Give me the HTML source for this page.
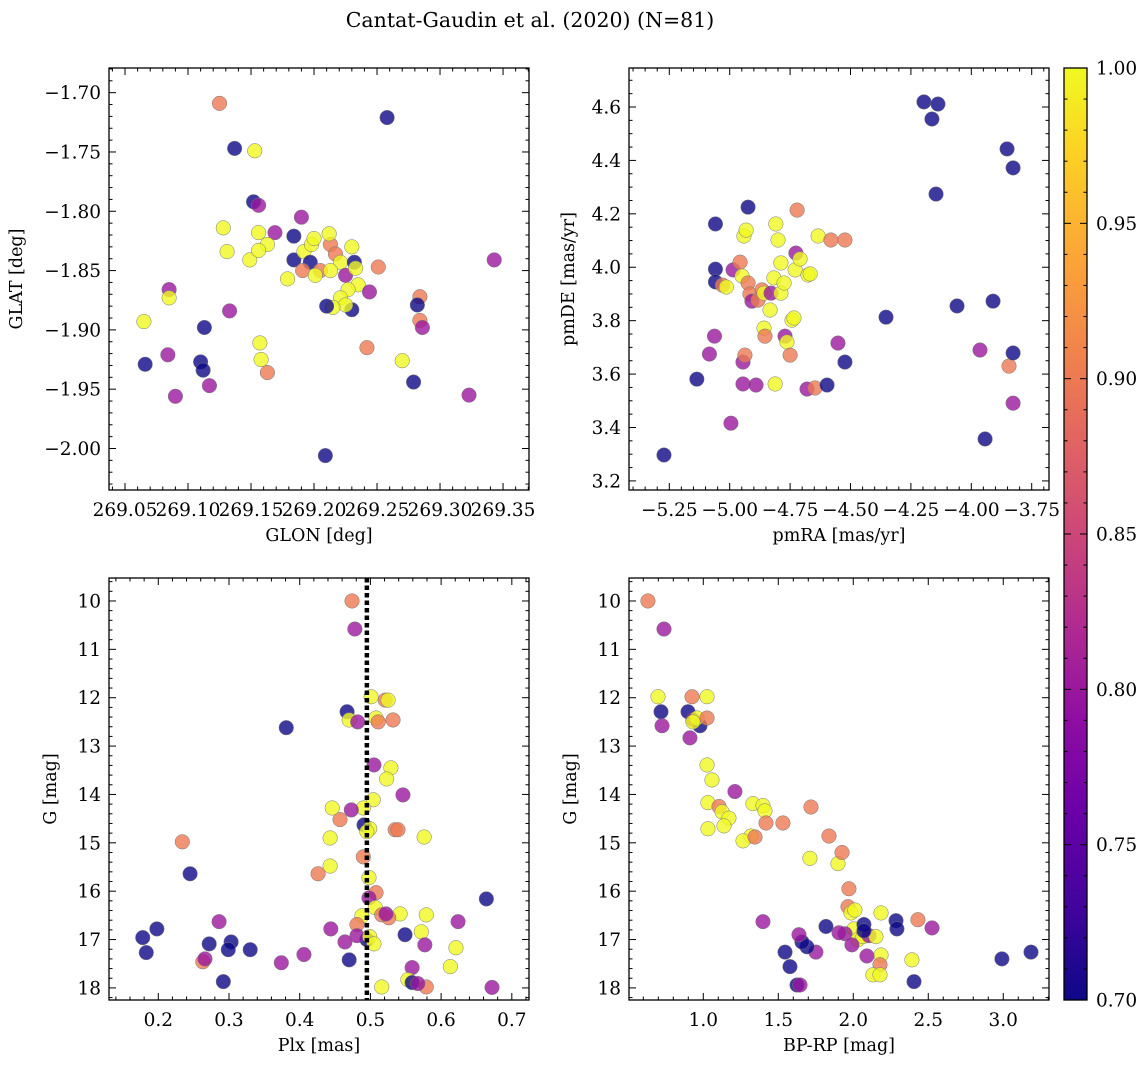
<!DOCTYPE html>
<html><head><meta charset="utf-8"><style>
body{margin:0;background:#fff;}
svg{display:block;font-family:"DejaVu Serif","Liberation Serif",serif;}
</style></head><body>
<svg id="fig" width="1148" height="1067" viewBox="0 0 1148 1067" xmlns="http://www.w3.org/2000/svg">
<defs><linearGradient id="plasma" x1="0" y1="1" x2="0" y2="0">
<stop offset="0" stop-color="#0d0887"/><stop offset="0.1" stop-color="#41049d"/><stop offset="0.2" stop-color="#6a00a8"/><stop offset="0.3" stop-color="#8f0da4"/><stop offset="0.4" stop-color="#b12a90"/><stop offset="0.5" stop-color="#cc4778"/><stop offset="0.6" stop-color="#e16462"/><stop offset="0.7" stop-color="#f2844b"/><stop offset="0.8" stop-color="#fca636"/><stop offset="0.9" stop-color="#fcce25"/><stop offset="1" stop-color="#f0f921"/>
</linearGradient></defs>
<text x="530" y="27" font-size="20.5" text-anchor="middle">Cantat-Gaudin et al. (2020) (N=81)</text>
</svg>
<script>
// Panel 1: GLON vs GLAT
const glon=[269.125,269.137,269.153,269.258,269.152,269.156,269.190,269.128,269.169,269.156,269.184,269.163,269.131,269.149,269.184,269.192,269.198,269.197,269.213,269.217,269.212,269.200,269.230,269.221,269.232,269.205,269.213,269.225,269.191,269.179,269.201,269.233,269.235,269.227,269.221,269.230,269.244,269.251,269.225,269.215,269.210,269.156,269.133,269.085,269.085,269.065,269.113,269.157,269.084,269.066,269.110,269.112,269.117,269.090,269.158,269.163,269.242,269.270,269.284,269.284,269.282,269.286,269.279,269.209,269.323,269.343];
const glat=[-1.709,-1.747,-1.749,-1.721,-1.792,-1.795,-1.805,-1.814,-1.818,-1.818,-1.821,-1.828,-1.834,-1.841,-1.841,-1.834,-1.828,-1.843,-1.828,-1.836,-1.819,-1.823,-1.830,-1.843,-1.843,-1.850,-1.850,-1.854,-1.850,-1.857,-1.854,-1.848,-1.862,-1.866,-1.873,-1.883,-1.868,-1.847,-1.879,-1.881,-1.880,-1.833,-1.884,-1.866,-1.873,-1.893,-1.898,-1.911,-1.921,-1.929,-1.927,-1.934,-1.947,-1.956,-1.925,-1.936,-1.915,-1.926,-1.892,-1.872,-1.879,-1.898,-1.944,-2.006,-1.955,-1.841];
const prob1=[0.90,0.70,1.00,0.70,0.70,0.80,0.80,1.00,0.80,1.00,0.70,1.00,1.00,1.00,0.70,1.00,1.00,0.70,0.90,0.90,1.00,1.00,1.00,1.00,0.70,0.90,1.00,0.80,0.90,1.00,1.00,1.00,1.00,1.00,1.00,0.70,0.80,0.90,1.00,1.00,0.70,1.00,0.80,0.80,1.00,1.00,0.70,1.00,0.80,0.70,0.70,0.70,0.80,0.80,1.00,0.90,0.90,1.00,0.90,0.90,0.70,0.80,0.70,0.70,0.80,0.80];
// Panel 2: pmRA vs pmDE
const pmra=[-5.272,-5.136,-5.084,-5.063,-5.059,-5.059,-5.059,-5.030,-5.014,-4.986,-4.995,-4.945,-4.945,-4.937,-4.924,-4.941,-4.932,-4.957,-4.949,-4.924,-4.916,-4.908,-4.883,-4.891,-4.866,-4.858,-4.858,-4.854,-4.833,-4.829,-4.817,-4.809,-4.800,-4.788,-4.788,-4.775,-4.812,-4.771,-4.763,-4.750,-4.742,-4.734,-4.729,-4.726,-4.721,-4.709,-4.676,-4.667,-4.634,-4.581,-4.523,-4.680,-4.647,-4.597,-4.523,-4.552,-4.353,-4.196,-4.163,-4.138,-4.146,-4.059,-3.943,-3.964,-3.910,-3.852,-3.827,-3.844,-3.827,-3.827];
const pmde=[3.297,3.581,3.675,3.742,3.993,4.162,3.945,3.933,3.926,3.990,3.416,3.563,3.645,3.671,4.225,4.117,4.139,4.019,3.967,3.941,3.900,3.873,3.877,3.559,3.915,3.903,3.772,3.742,3.840,3.903,3.960,4.162,4.102,3.903,4.016,3.941,3.563,3.742,3.720,3.671,3.802,3.810,3.990,4.053,4.214,4.031,3.971,3.975,4.117,4.102,4.102,3.544,3.548,3.559,3.645,3.716,3.813,4.619,4.555,4.611,4.274,3.855,3.357,3.690,3.873,4.443,4.372,3.630,3.679,3.491];
const prob2=[0.70,0.70,0.80,0.80,0.70,0.70,0.70,0.90,1.00,0.80,0.80,0.80,0.80,0.90,0.70,1.00,1.00,0.90,1.00,0.90,0.90,0.80,0.90,0.80,0.90,1.00,1.00,0.90,1.00,0.80,1.00,1.00,1.00,1.00,1.00,1.00,1.00,0.80,1.00,0.90,1.00,1.00,1.00,0.80,0.90,1.00,1.00,1.00,1.00,0.90,0.90,0.80,0.90,0.70,0.70,0.80,0.70,0.70,0.70,0.70,0.70,0.70,0.70,0.80,0.70,0.70,0.70,0.90,0.70,0.80];
// Panel 3: Plx vs G
const plx=[0.474,0.478,0.467,0.470,0.482,0.501,0.521,0.525,0.508,0.511,0.532,0.529,0.523,0.505,0.546,0.504,0.490,0.491,0.499,0.495,0.473,0.457,0.446,0.443,0.535,0.576,0.539,0.490,0.498,0.508,0.498,0.443,0.426,0.381,0.234,0.245,0.488,0.481,0.507,0.542,0.495,0.481,0.499,0.505,0.516,0.526,0.522,0.549,0.579,0.572,0.577,0.559,0.553,0.559,0.579,0.567,0.624,0.621,0.613,0.664,0.672,0.444,0.464,0.470,0.516,0.406,0.374,0.178,0.183,0.198,0.272,0.286,0.303,0.299,0.263,0.266,0.292,0.330];
const gmag3=[10.00,10.58,12.29,12.46,12.50,11.98,12.05,12.05,12.42,12.50,12.46,13.45,13.68,13.39,14.01,14.11,14.28,14.63,14.71,14.77,14.32,14.52,14.28,14.90,14.73,14.88,14.73,15.29,15.72,16.03,16.14,15.48,15.64,12.62,14.98,15.64,16.51,16.69,16.34,16.47,17.00,16.92,16.94,17.09,16.49,16.55,16.47,16.90,16.49,16.84,17.11,17.58,17.83,17.89,17.98,17.91,16.63,17.17,17.56,16.16,17.99,16.78,17.05,17.42,17.98,17.31,17.48,16.96,17.27,16.78,17.09,16.63,17.05,17.21,17.46,17.40,17.87,17.21];
const prob3=[0.90,0.80,0.70,1.00,0.80,1.00,0.90,1.00,1.00,0.90,0.90,1.00,1.00,0.80,0.80,1.00,1.00,0.70,1.00,1.00,0.80,0.90,1.00,1.00,0.90,1.00,0.90,0.90,1.00,0.90,0.80,1.00,0.90,0.70,0.90,0.70,1.00,0.90,1.00,1.00,0.70,0.80,1.00,1.00,0.90,0.90,0.80,0.70,1.00,1.00,0.80,0.80,1.00,0.70,0.90,0.80,0.80,1.00,1.00,0.70,0.80,0.80,0.80,0.70,1.00,0.80,0.80,0.70,0.70,0.70,0.70,0.80,0.70,0.70,0.90,0.80,0.70,0.70];
// Panel 4: BP-RP vs G
const bprp=[0.631,0.738,0.698,0.718,0.725,0.898,0.931,0.978,0.958,0.931,1.025,1.025,0.925,0.911,1.025,1.058,1.031,1.105,1.125,1.171,1.138,1.031,1.211,1.331,1.398,1.411,1.418,1.318,1.265,1.345,1.531,1.718,1.838,1.898,1.925,1.711,1.971,1.965,1.985,2.011,2.005,1.945,1.905,2.031,2.065,2.105,2.151,2.185,2.185,2.178,2.131,2.178,1.991,2.071,2.071,2.091,2.285,2.291,2.431,2.525,2.391,1.818,1.751,1.691,1.625,1.545,1.578,1.658,1.638,1.398,2.405,2.991,3.185,1.645];
const gmag4=[10.00,10.58,11.98,12.29,12.58,12.29,12.46,12.58,12.42,12.50,11.98,12.42,11.98,12.83,13.39,13.70,14.17,14.25,14.36,14.49,14.65,14.71,13.94,14.19,14.23,14.34,14.59,14.86,14.96,14.88,14.59,14.26,14.86,15.43,15.20,15.32,15.95,16.32,16.45,16.39,16.78,16.88,16.86,17.00,16.94,16.92,16.94,16.45,17.32,17.52,17.73,17.73,17.11,16.69,16.82,17.34,16.61,16.78,16.59,16.76,17.42,16.73,17.26,17.15,17.94,17.26,17.56,17.05,16.90,16.63,17.87,17.40,17.26,17.94];
const prob4=[0.90,0.80,1.00,0.70,0.80,0.70,0.80,0.70,1.00,1.00,1.00,0.90,0.90,0.80,1.00,1.00,1.00,0.90,1.00,1.00,1.00,1.00,0.80,1.00,1.00,1.00,0.90,1.00,1.00,0.90,0.90,0.90,0.90,1.00,0.90,1.00,0.90,0.90,1.00,1.00,1.00,0.80,0.80,1.00,1.00,0.80,1.00,1.00,1.00,0.90,1.00,1.00,0.80,0.70,0.70,0.80,0.70,0.70,0.90,0.80,1.00,0.70,0.80,0.70,0.70,0.70,0.70,0.70,0.80,0.80,0.70,0.70,0.70,0.80];
const cbTicks=[0.70,0.75,0.80,0.85,0.90,0.95,1.00];

const NS="http://www.w3.org/2000/svg";
const svg=document.getElementById('fig');
const stops=[[0,13,8,135],[0.1,65,4,157],[0.2,106,0,168],[0.3,143,13,164],[0.4,177,42,144],[0.5,204,71,120],[0.6,225,100,98],[0.7,242,132,75],[0.8,252,166,54],[0.9,252,206,37],[1,240,249,33]];
function plasma(t){t=Math.max(0,Math.min(1,t));for(let i=1;i<stops.length;i++){if(t<=stops[i][0]){const a=stops[i-1],b=stops[i],f=(t-a[0])/(b[0]-a[0]);return `rgb(${Math.round(a[1]+f*(b[1]-a[1]))},${Math.round(a[2]+f*(b[2]-a[2]))},${Math.round(a[3]+f*(b[3]-a[3]))})`;}}return 'rgb(240,249,33)';}
function mk(tag,attrs,parent){const e=document.createElementNS(NS,tag);for(const k in attrs)e.setAttribute(k,attrs[k]);(parent||svg).appendChild(e);return e;}
function fmt(v,d){const s=Math.abs(v).toFixed(d);return (v< -1e-9?'\u2212':'')+s;}
const TF=18.5, LF=17.5;

function panel(cfg){
  const g=mk('g',{});
  
  
  const {L,T,R,B,x0,x1,yT,yB}=cfg;
  const sx=v=>L+(v-x0)/(x1-x0)*(R-L);
  const sy=v=>T+(v-yT)/(yB-yT)*(B-T);
  for(let i=0;i<cfg.xs.length;i++){
    const c=mk('circle',{cx:sx(cfg.xs[i]),cy:sy(cfg.ys[i]),r:7.3,fill:plasma((cfg.ps[i]-0.7)/0.3),'fill-opacity':0.8,stroke:'#777','stroke-width':0.5},g);
    
    
  }
  if(cfg.vline!==undefined){
    const vl=mk('line',{x1:sx(cfg.vline),x2:sx(cfg.vline),y1:T,y2:B,stroke:'#000','stroke-width':4.5,'stroke-dasharray':'4.5,3'},g);
    
    
  }
  const lo=Math.min(x0,x1),hi=Math.max(x0,x1);
  for(let k=Math.ceil(lo/cfg.xmin-1e-6);k*cfg.xmin<=hi+1e-9;k++){
    const v=k*cfg.xmin,x=sx(v);
    const maj=Math.abs(v/cfg.xmaj-Math.round(v/cfg.xmaj))<1e-6;
    const len=maj?7:3.5;
    mk('line',{x1:x,x2:x,y1:B,y2:B-len,stroke:'#000','stroke-width':1},g);
    mk('line',{x1:x,x2:x,y1:T,y2:T+len,stroke:'#000','stroke-width':1},g);
    if(maj){const t=mk('text',{x:x,y:B+26,'font-size':TF,'text-anchor':'middle'},g);t.textContent=fmt(v,cfg.xd);
      
      }
  }
  const ylo=Math.min(yT,yB),yhi=Math.max(yT,yB);
  for(let k=Math.ceil(ylo/cfg.ymin-1e-6);k*cfg.ymin<=yhi+1e-9;k++){
    const v=k*cfg.ymin,y=sy(v);
    const maj=Math.abs(v/cfg.ymaj-Math.round(v/cfg.ymaj))<1e-6;
    const len=maj?7:3.5;
    mk('line',{x1:L,x2:L+len,y1:y,y2:y,stroke:'#000','stroke-width':1},g);
    mk('line',{x1:R,x2:R-len,y1:y,y2:y,stroke:'#000','stroke-width':1},g);
    if(maj){const t=mk('text',{x:L-8,y:y+6.5,'font-size':TF,'text-anchor':'end'},g);t.textContent=fmt(v,cfg.yd);
      
      }
  }
  mk('rect',{x:L,y:T,width:R-L,height:B-T,fill:'none',stroke:'#000','stroke-width':1.3},g);
  const xl=mk('text',{x:(L+R)/2,y:B+51,'font-size':LF,'text-anchor':'middle'},g);xl.textContent=cfg.xlabel;
  
  
  const yx=cfg.ylx,yy=(T+B)/2;
  const yl=mk('text',{x:yx,y:yy,'font-size':LF,'text-anchor':'middle',transform:`rotate(-90 ${yx} ${yy})`},g);yl.textContent=cfg.ylabel;
  
  
}

panel({name:'glon-glat-panel',L:109,T:68,R:529,B:490,x0:269.0373,x1:269.3706,yT:-1.6792,yB:-2.035,xs:glon,ys:glat,ps:prob1,xmaj:0.05,xmin:0.01,ymaj:0.05,ymin:0.01,xd:2,yd:2,xlabel:'GLON [deg]',ylabel:'GLAT [deg]',ylx:22});
panel({name:'proper-motion-panel',L:629,T:68,R:1049,B:490,x0:-5.4168,x1:-3.6784,yT:4.746,yB:3.166,xs:pmra,ys:pmde,ps:prob2,xmaj:0.25,xmin:0.05,ymaj:0.2,ymin:0.05,xd:2,yd:1,xlabel:'pmRA [mas/yr]',ylabel:'pmDE [mas/yr]',ylx:574});
panel({name:'parallax-mag-panel',L:109,T:578,R:529,B:1000,x0:0.1303,x1:0.7243,yT:9.525,yB:18.25,xs:plx,ys:gmag3,ps:prob3,xmaj:0.1,xmin:0.02,ymaj:1,ymin:0.2,xd:1,yd:0,xlabel:'Plx [mas]',ylabel:'G [mag]',ylx:56,vline:0.495});
panel({name:'cmd-panel',L:629,T:578,R:1049,B:1000,x0:0.5047,x1:3.305,yT:9.525,yB:18.25,xs:bprp,ys:gmag4,ps:prob4,xmaj:0.5,xmin:0.1,ymaj:1,ymin:0.2,xd:1,yd:0,xlabel:'BP-RP [mag]',ylabel:'G [mag]',ylx:576});

const cb=mk('g',{});


const cT=68,cB=1000,cL=1064,cR=1087;
mk('rect',{x:cL,y:cT,width:cR-cL,height:cB-cT,fill:'url(#plasma)',stroke:'#000','stroke-width':1.3},cb);
const cy=v=>cB-(v-0.70)/0.30*(cB-cT);
for(let k=70;k<=100;k++){
  const v=k/100,y=cy(v),maj=(k%5===0);
  mk('line',{x1:cR,x2:cR-(maj?7:3.5),y1:y,y2:y,stroke:'#000','stroke-width':1},cb);
  mk('line',{x1:cL,x2:cL+(maj?7:3.5),y1:y,y2:y,stroke:'#000','stroke-width':1},cb);
}
cbTicks.forEach(v=>{const t=mk('text',{x:cR+9,y:cy(v)+6.5,'font-size':TF},cb);t.textContent=v.toFixed(2);
  
  });
</script>
</body></html>
